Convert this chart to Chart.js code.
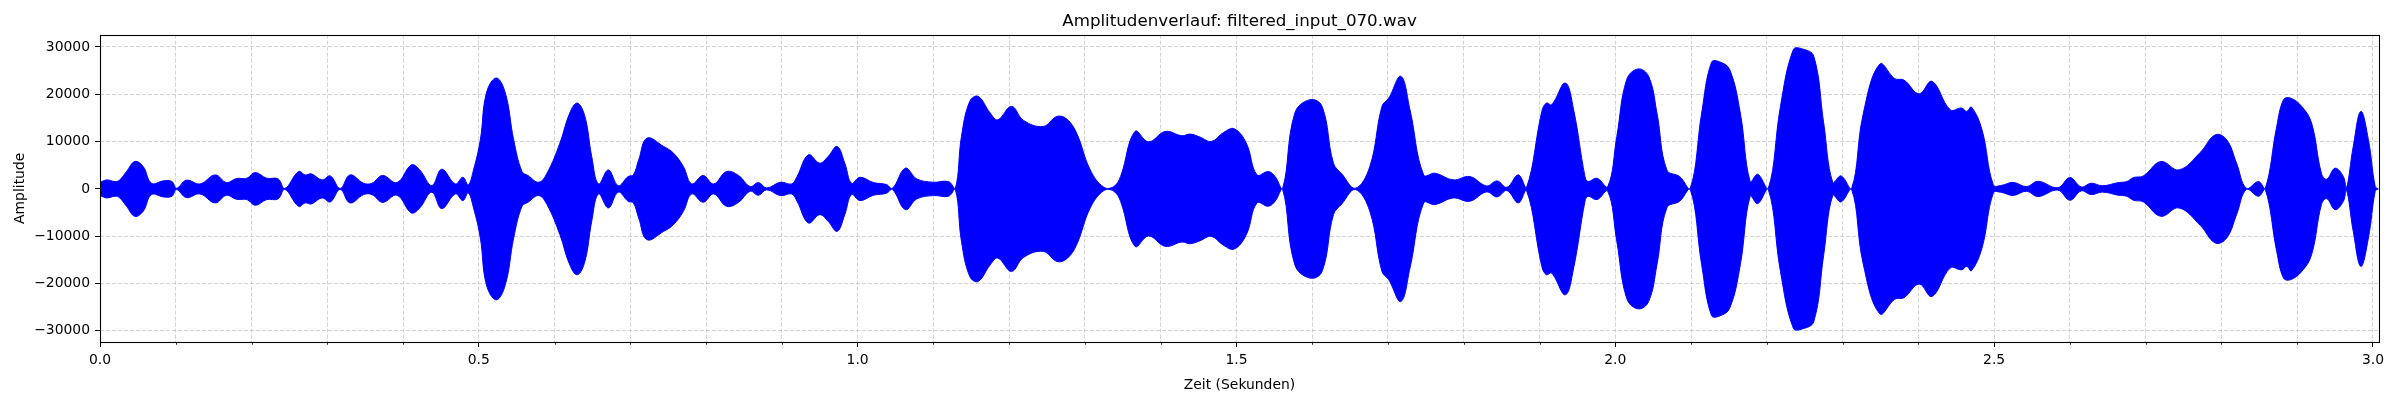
<!DOCTYPE html>
<html>
<head>
<meta charset="utf-8">
<title>Amplitudenverlauf</title>
<script src="https://cdn.jsdelivr.net/npm/chart.js"></script>
<style>
  html, body { margin: 0; padding: 0; background: #fff; }
  #wrap { width: 2400px; height: 400px; }
</style>
</head>
<body>
<div id="wrap"><canvas id="graficoAmplitud" width="2400" height="400"></canvas></div>
<script>
// Zeitpunkte (s) und Spitzenamplitude der Hüllkurve
const timeSec = [
  0.000, 0.009, 0.020, 0.026, 0.035, 0.046, 0.057, 0.068, 0.084, 0.095,
  0.101, 0.114, 0.132, 0.152, 0.167, 0.180, 0.194, 0.205, 0.220, 0.235,
  0.244, 0.262, 0.271, 0.279, 0.293, 0.304, 0.317, 0.330, 0.348, 0.359,
  0.373, 0.392, 0.411, 0.422, 0.438, 0.451, 0.469, 0.479, 0.486, 0.493,
  0.502, 0.510, 0.523, 0.535, 0.546, 0.557, 0.565, 0.579, 0.590, 0.607,
  0.620, 0.630, 0.640, 0.649, 0.658, 0.671, 0.684, 0.697, 0.704, 0.711,
  0.722, 0.744, 0.757, 0.770, 0.781, 0.796, 0.810, 0.827, 0.843, 0.858,
  0.869, 0.880, 0.898, 0.913, 0.920, 0.935, 0.950, 0.961, 0.973, 0.983,
  0.992, 1.003, 1.021, 1.038, 1.046, 1.063, 1.078, 1.100, 1.120, 1.129,
  1.137, 1.148, 1.159, 1.175, 1.185, 1.203, 1.219, 1.245, 1.263, 1.276,
  1.289, 1.307, 1.325, 1.338, 1.347, 1.366, 1.384, 1.406, 1.428, 1.439,
  1.452, 1.467, 1.483, 1.497, 1.513, 1.527, 1.542, 1.551, 1.561, 1.577,
  1.597, 1.613, 1.628, 1.639, 1.657, 1.676, 1.692, 1.701, 1.717, 1.729,
  1.747, 1.762, 1.786, 1.808, 1.830, 1.844, 1.857, 1.872, 1.883, 1.903,
  1.909, 1.916, 1.934, 1.945, 1.960, 1.964, 1.976, 1.990, 2.002, 2.015,
  2.030, 2.044, 2.055, 2.068, 2.085, 2.099, 2.114, 2.127, 2.138, 2.151,
  2.165, 2.178, 2.188, 2.202, 2.218, 2.235, 2.247, 2.262, 2.275, 2.287,
  2.298, 2.312, 2.327, 2.349, 2.369, 2.381, 2.401, 2.418, 2.442, 2.457,
  2.464, 2.470, 2.484, 2.499, 2.510, 2.525, 2.543, 2.558, 2.584, 2.600,
  2.615, 2.628, 2.643, 2.664, 2.675, 2.684, 2.697, 2.720, 2.744, 2.772,
  2.792, 2.807, 2.820, 2.833, 2.849, 2.858, 2.873, 2.882, 2.891, 2.906,
  2.919, 2.932, 2.939, 2.950, 2.961, 2.965, 2.974, 2.984, 2.994, 3.003,
  3.007
];

const peakAmp = [
  1400, 1900, 1550, 1900, 3670, 5800, 4730, 1200, 1700, 1550,
  150, 1840, 1060, 2960, 1340, 2190, 2260, 3460, 2260, 2120,
  100, 3670, 2960, 3180, 1900, 2750, 100, 2960, 1200, 1200,
  2850, 1340, 5080, 4020, 700, 4160, 1060, 2470, 850, 4020,
  10380, 20260, 23440, 20260, 10380, 3670, 2820, 1410, 3320, 9670,
  16030, 18140, 15320, 6850, 1060, 4020, 700, 2610, 2970, 6140,
  10730, 8970, 7550, 4730, 1060, 2820, 1060, 3670, 2820, 490,
  1340, 200, 1410, 1060, 2610, 7200, 5440, 6850, 8970, 5440,
  1200, 2470, 1340, 920, 140, 4380, 2120, 1410, 1550, 140,
  11080, 18500, 19560, 16030, 14610, 17440, 14470, 13200, 15320, 14760,
  11790, 4020, 350, 490, 2610, 12140, 9950, 12140, 11230, 11580,
  10940, 10030, 11930, 12710, 9670, 2970, 3670, 2610, 140, 16030,
  18850, 17440, 5440, 3180, 140, 4730, 17440, 19200, 23790, 16730,
  2970, 3320, 1910, 2610, 640, 1690, 350, 2970, 400, 16380,
  18140, 17790, 22380, 16730, 2610, 1550, 2260, 490, 11080, 23090,
  25350, 23790, 16030, 4020, 2610, 140, 16030, 26760, 26830, 25210,
  16030, 1550, 3110, 140, 17440, 29440, 29580, 28030, 14000, 1400,
  2750, 140, 15670, 26370, 23300, 23000, 20100, 22730, 16730, 17090,
  16380, 17300, 12500, 850, 750, 1380, 490, 1620, 250, 2400,
  420, 1200, 670, 1340, 1550, 2400, 2750, 5790, 4020, 7700,
  11440, 10380, 5440, 140, 1550, 140, 13200, 18850, 19200, 17440,
  13910, 3320, 2050, 4380, 2610, 140, 8970, 16380, 10380, 490,
  0
];

// Achsen und Teilstriche
const xMin = 0, xMax = 3.008;
const xTicks = [0.0, 0.1, 0.2, 0.3, 0.4, 0.5, 0.6, 0.7, 0.8, 0.9,
  1.0, 1.1, 1.2, 1.3, 1.4, 1.5, 1.6, 1.7, 1.8, 1.9,
  2.0, 2.1, 2.2, 2.3, 2.4, 2.5, 2.6, 2.7, 2.8, 2.9, 3.0];
const xLabels = [0.0, 0.5, 1.0, 1.5, 2.0, 2.5, 3.0];
const yMin = -32350, yMax = 32600;
const yTicks = [-30000, -20000, -10000, 0, 10000, 20000, 30000];

const fuente = "'DejaVu Sans', sans-serif";

function esMayor(v) {
  return xLabels.some(function (l) { return Math.abs(l - v) < 1e-6; });
}

const superior = timeSec.map((t, i) => ({ x: t, y: peakAmp[i] }));
const inferior = timeSec.map((t, i) => ({ x: t, y: -peakAmp[i] }));

const marcoPlugin = {
  id: 'marco',
  afterDraw(chart) {
    const { ctx, chartArea: a, scales } = chart;
    const x = scales.x;
    ctx.save();
    ctx.strokeStyle = '#000';
    ctx.lineWidth = 0.8;
    x.ticks.forEach(function (tk) {
      if (esMayor(tk.value)) return;
      const px = Math.round(x.getPixelForValue(tk.value)) + 0.5;
      ctx.beginPath();
      ctx.moveTo(px, a.bottom);
      ctx.lineTo(px, a.bottom + 2.8);
      ctx.stroke();
    });
    ctx.lineWidth = 1.1;
    ctx.strokeRect(Math.round(a.left) + 0.5, Math.round(a.top) + 0.5,
      Math.round(a.right - a.left), Math.round(a.bottom - a.top));
    ctx.restore();
  }
};

new Chart(document.getElementById('graficoAmplitud'), {
  type: 'line',
  plugins: [marcoPlugin],
  data: {
    datasets: [
      {
        data: superior,
        borderColor: '#0000ff',
        backgroundColor: '#0000ff',
        borderWidth: 1,
        pointRadius: 0,
        tension: 0.4,
        fill: false
      },
      {
        data: inferior,
        borderColor: '#0000ff',
        backgroundColor: '#0000ff',
        borderWidth: 1,
        pointRadius: 0,
        tension: 0.4,
        fill: '-1'
      }
    ]
  },
  options: {
    responsive: false,
    animation: false,
    devicePixelRatio: 1,
    layout: { padding: { left: 0, right: 21, top: 0, bottom: 0 } },
    plugins: {
      legend: { display: false },
      tooltip: { enabled: false },
      title: {
        display: true,
        fullSize: false,
        text: 'Amplitudenverlauf: filtered_input_070.wav',
        color: '#000',
        font: { family: fuente, size: 16.7, weight: 'normal' },
        padding: { top: 11.5, bottom: 3.1 }
      }
    },
    scales: {
      x: {
        type: 'linear',
        min: xMin,
        max: xMax,
        afterFit: function (scale) { scale.height = 58; },
        afterBuildTicks: function (scale) {
          scale.ticks = xTicks.map(function (v) { return { value: v }; });
        },
        title: {
          display: true,
          text: 'Zeit (Sekunden)',
          color: '#000',
          font: { family: fuente, size: 13.9 },
          padding: { top: 0, bottom: 6 }
        },
        ticks: {
          autoSkip: false,
          maxRotation: 0,
          padding: 5,
          color: '#000',
          font: { family: fuente, size: 13.9 },
          callback: function (v) { return esMayor(v) ? Number(v).toFixed(1) : ''; }
        },
        grid: {
          color: 'rgba(176,176,176,0.7)',
          lineWidth: 0.8,
          drawTicks: true,
          tickLength: 5,
          tickWidth: 1,
          tickColor: function (c) { return c.tick && esMayor(c.tick.value) ? '#000' : 'rgba(0,0,0,0)'; }
        },
        border: { display: false, dash: [4, 2] }
      },
      y: {
        min: yMin,
        max: yMax,
        afterFit: function (scale) { scale.width = 100; },
        afterBuildTicks: function (scale) {
          scale.ticks = yTicks.map(function (v) { return { value: v }; });
        },
        title: {
          display: true,
          text: 'Amplitude',
          color: '#000',
          font: { family: fuente, size: 13.9 },
          padding: { top: 11.6, bottom: 0 }
        },
        ticks: {
          autoSkip: false,
          padding: 5,
          color: '#000',
          font: { family: fuente, size: 13.9 },
          callback: function (v) { return v < 0 ? '\u2212' + Math.abs(v) : String(v); }
        },
        grid: {
          color: 'rgba(176,176,176,0.7)',
          lineWidth: 0.8,
          drawTicks: true,
          tickLength: 5,
          tickWidth: 1,
          tickColor: '#000'
        },
        border: { display: false, dash: [4, 2] }
      }
    }
  }
});
</script>
</body>
</html>
